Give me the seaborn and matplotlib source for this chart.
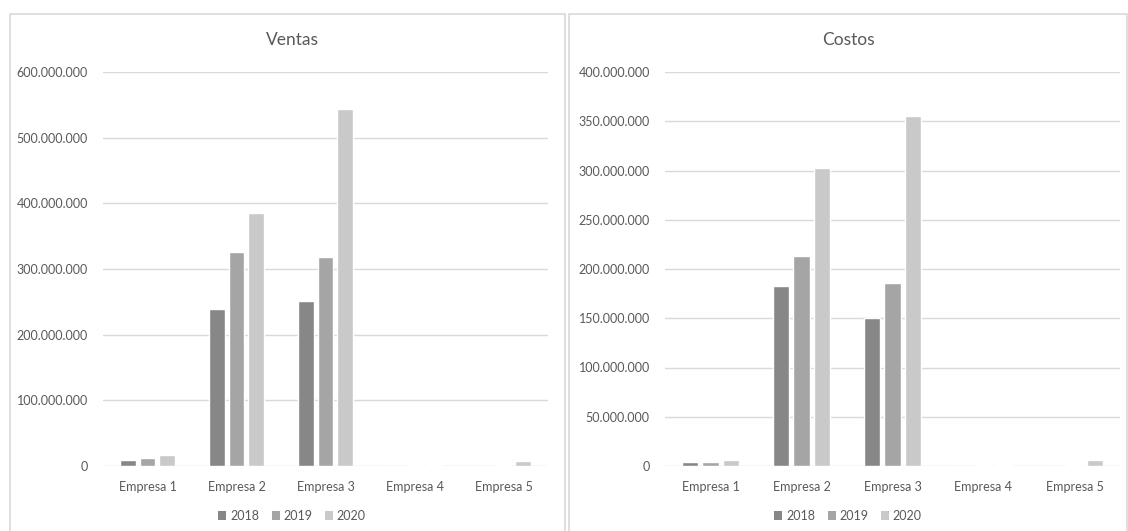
import matplotlib
matplotlib.use("Agg")
import matplotlib.pyplot as plt
from matplotlib.patches import Rectangle, Patch
from matplotlib.ticker import FuncFormatter, MultipleLocator
import seaborn as sns
import pandas as pd

# ---- data (values in units) ----
empresas = ["Empresa 1", "Empresa 2", "Empresa 3", "Empresa 4", "Empresa 5"]
anios = ["2018", "2019", "2020"]

ventas_2018 = [9_500_000, 238_500_000, 251_000_000, 0, 0]
ventas_2019 = [11_500_000, 326_000_000, 318_000_000, 2_000_000, 2_000_000]
ventas_2020 = [17_000_000, 385_000_000, 544_000_000, 2_000_000, 8_000_000]

costos_2018 = [4_000_000, 183_000_000, 150_500_000, 0, 0]
costos_2019 = [4_000_000, 213_000_000, 185_500_000, 1_200_000, 1_200_000]
costos_2020 = [6_500_000, 302_500_000, 355_500_000, 1_200_000, 6_300_000]

colores = ["#878787", "#a5a5a5", "#c9c9c9"]
texto = "#595959"
rejilla = "#d9d9d9"


def largo(s18, s19, s20):
    filas = []
    for anio, serie in zip(anios, [s18, s19, s20]):
        for emp, v in zip(empresas, serie):
            filas.append({"Empresa": emp, "Año": anio, "Valor": v})
    return pd.DataFrame(filas)


df_ventas = largo(ventas_2018, ventas_2019, ventas_2020)
df_costos = largo(costos_2018, costos_2019, costos_2020)

sns.set_theme(style="white")
plt.rcParams["font.family"] = ["Lato", "DejaVu Sans"]

W, H = 1128, 531
fig = plt.figure(figsize=(W / 100, H / 100), dpi=100)
fig.patch.set_facecolor("white")

# panel frames
for x0, x1 in [(9.5, 565), (568.5, 1127)]:
    fig.patches.append(Rectangle((x0 / W, -0.05), (x1 - x0) / W, 1.05 - 14.5 / H,
                                 transform=fig.transFigure, fill=False,
                                 edgecolor="#d9d9d9", linewidth=1.2))

paneles = [
    ("Ventas", df_ventas, [103 / W, (H - 466) / H, 445 / W, 394 / H], 600_000_000, 100_000_000, 292),
    ("Costos", df_costos, [665 / W, (H - 466) / H, 455 / W, 394 / H], 400_000_000, 50_000_000, 848),
]

fmt = FuncFormatter(lambda v, p: f"{v:,.0f}".replace(",", "."))

for titulo, df, rect, ymax, paso, cx in paneles:
    ax = fig.add_axes(rect)
    sns.barplot(data=df, x="Empresa", y="Valor", hue="Año", palette=colores,
                width=0.67, gap=0.2, ax=ax, legend=False, saturation=1)
    ax.set_ylim(0, ymax)
    ax.set_xlim(-0.5, 4.5)
    ax.yaxis.set_major_locator(MultipleLocator(paso))
    ax.yaxis.set_major_formatter(fmt)
    ax.set_xlabel("")
    ax.set_ylabel("")
    for s in ax.spines.values():
        s.set_visible(False)
    ax.grid(axis="y", color=rejilla, linewidth=1)
    ax.set_axisbelow(True)
    ax.tick_params(axis="both", length=0, labelsize=9, colors=texto)
    ax.tick_params(axis="x", pad=11)
    ax.tick_params(axis="y", pad=11)
    fig.text(cx / W, 1 - 40 / H, titulo, ha="center", va="center",
             fontsize=12.5, color=texto)
    handles = [Patch(facecolor=c, edgecolor="none") for c in colores]
    fig.legend(handles, anios, loc="center", bbox_to_anchor=(cx / W, 1 - 516 / H),
               ncol=3, frameon=False, fontsize=9, labelcolor=texto,
               handlelength=0.65, handleheight=0.65, handletextpad=0.3,
               columnspacing=1.0)

fig.savefig("out.png", dpi=100, facecolor="white")
